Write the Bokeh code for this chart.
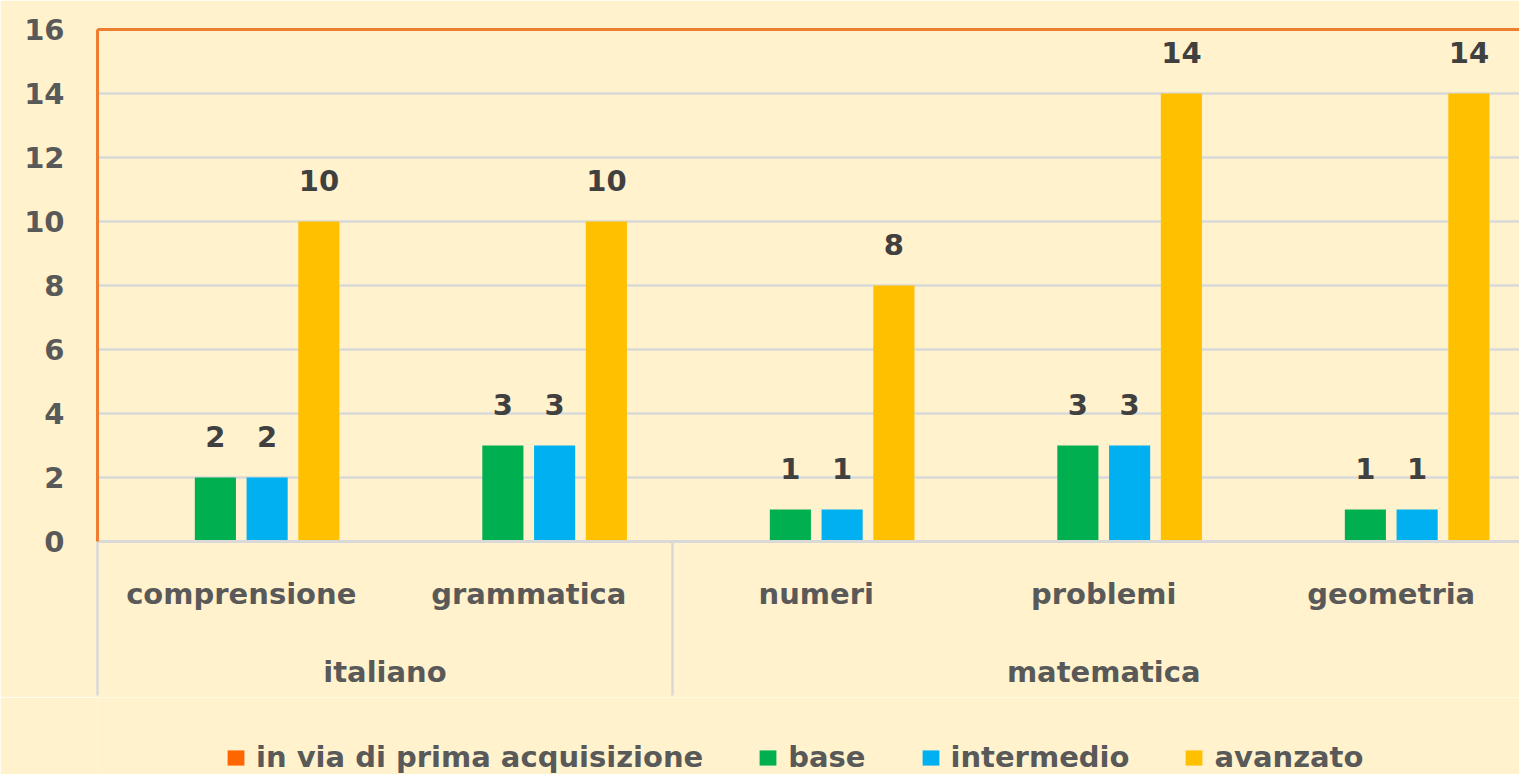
from bokeh.plotting import figure
from bokeh.layouts import column
from bokeh.models import (Range1d, LinearAxis, FixedTicker, Legend, LegendItem,
                          ColumnDataSource)
from bokeh.core.properties import value
from bokeh.embed import file_html
from bokeh.resources import INLINE

# ---- data ----
topics = ["comprensione", "grammatica", "numeri", "problemi", "geometria"]
topic_group = ["italiano", "italiano", "matematica", "matematica", "matematica"]
series_names = ["in via di prima acquisizione", "base", "intermedio", "avanzato"]
in_via = [0, 0, 0, 0, 0]
base = [2, 3, 1, 3, 1]
intermedio = [2, 3, 1, 3, 1]
avanzato = [10, 10, 8, 14, 14]
y_ticks = [0, 2, 4, 6, 8, 10, 12, 14, 16]

series_values = [in_via, base, intermedio, avanzato]
series_colors = ["#FF6600", "#00B050", "#00B0F0", "#FFC000"]
label_series = [False, True, True, True]

FONT = "DejaVu Sans"
FS = "29px"
BG = "#FFF2CC"
GRID = "#D9D9D9"
TXT = "#595959"

# category geometry (one unit per topic)
centers = [i + 0.5 for i in range(len(topics))]
groups = []
for g in topic_group:
    if g not in groups:
        groups.append(g)
boundaries = [0.0]
group_centers = []
start = 0
for g in groups:
    n = topic_group.count(g)
    group_centers.append(start + n / 2)
    start += n
    boundaries.append(float(start))

FW = 1422
p = figure(frame_width=FW, frame_height=512, output_backend="svg",
           toolbar_location=None,
           x_range=Range1d(0, FW / 287.5), y_range=Range1d(0, 16),
           x_axis_location=None, y_axis_location="left",
           min_border_left=97, min_border_right=0, min_border_top=29,
           min_border_bottom=156)
p.background_fill_color = BG
p.border_fill_color = BG
p.outline_line_color = None

# grid
p.xgrid.visible = False
p.ygrid.grid_line_color = GRID
p.ygrid.grid_line_width = 2.5
p.ygrid.ticker = FixedTicker(ticks=y_ticks)

# y axis
ya = p.yaxis[0]
ya.ticker = FixedTicker(ticks=y_ticks)
ya.axis_line_color = "#ED7D31"
ya.axis_line_width = 3
ya.major_tick_line_color = None
ya.minor_tick_line_color = None
ya.major_tick_out = 0
ya.major_tick_in = 0
ya.major_label_standoff = 33
ya.major_label_text_font = FONT
ya.major_label_text_font_style = "bold"
ya.major_label_text_font_size = FS
ya.major_label_text_color = TXT

# top orange border line
top = LinearAxis(ticker=FixedTicker(ticks=[]), axis_line_color="#ED7D31",
                 axis_line_width=3, major_tick_line_color=None,
                 minor_tick_line_color=None, major_tick_out=0, major_tick_in=0,
                 minor_tick_out=0, minor_tick_in=0,
                 major_label_text_font_size="0px", major_label_standoff=0)
p.add_layout(top, "above")


def style_label_axis(ax, standoff):
    ax.major_tick_line_color = None
    ax.major_tick_out = 0
    ax.major_tick_in = 0
    ax.minor_tick_line_color = None
    ax.minor_tick_out = 0
    ax.minor_tick_in = 0
    ax.major_label_standoff = standoff
    ax.major_label_text_font = FONT
    ax.major_label_text_font_style = "bold"
    ax.major_label_text_font_size = FS
    ax.major_label_text_color = TXT


# bottom category axis (topics)
ax1 = LinearAxis(ticker=FixedTicker(ticks=centers),
                 major_label_overrides={c: t for c, t in zip(centers, topics)})
style_label_axis(ax1, 35)
ax1.axis_line_color = GRID
ax1.axis_line_width = 3
p.add_layout(ax1, "below")

# group axis (subjects); group separators drawn as its minor ticks
ax2 = LinearAxis(ticker=FixedTicker(ticks=group_centers, minor_ticks=boundaries),
                 major_label_overrides={c: g for c, g in zip(group_centers, groups)})
style_label_axis(ax2, -41)
ax2.axis_line_color = None
ax2.minor_tick_line_color = GRID
ax2.minor_tick_line_width = 2.5
ax2.minor_tick_in = 72
ax2.minor_tick_out = 82
p.add_layout(ax2, "below")

# legend strip (separate figure below the chart; its own view window holds no bars)
p2 = figure(frame_width=FW + 97, frame_height=77, output_backend="svg",
            toolbar_location=None, x_range=Range1d(-100, -99),
            y_range=Range1d(0, 16),
            x_axis_location=None, y_axis_location=None,
            min_border_left=0, min_border_right=0, min_border_top=0,
            min_border_bottom=0)
p2.background_fill_color = BG
p2.border_fill_color = BG
p2.outline_line_color = None
p2.xgrid.visible = False
p2.ygrid.visible = False

# bars
pitch = 0.18
bar_w = 0.143
n_series = len(series_names)
items = []
for k, (name, vals, col, lab) in enumerate(zip(series_names, series_values,
                                               series_colors, label_series)):
    off = (k - (n_series - 1) / 2) * pitch
    xs = [c + off for c in centers]
    src = ColumnDataSource(dict(x=xs, top=vals, lbl=[str(v) for v in vals]))
    p.vbar(x="x", top="top", bottom=0, width=bar_w, source=src,
           fill_color=col, line_color=None)
    if lab:
        p.text(x="x", y="top", text="lbl", source=src, text_align="center",
               text_baseline="alphabetic", y_offset=-41,
               text_font=value(FONT), text_font_style="bold",
               text_font_size=FS, text_color="#404040")
    r = p2.vbar(x="x", top="top", bottom=0, width=bar_w, source=src,
                fill_color=col, line_color=None)
    items.append(LegendItem(label=name, renderers=[r]))

legend = Legend(items=items, orientation="horizontal", location=(225, 0))
legend.background_fill_alpha = 0
legend.border_line_color = None
legend.label_text_font = FONT
legend.label_text_font_style = "bold"
legend.label_text_font_size = FS
legend.label_text_color = TXT
legend.glyph_width = 21
legend.glyph_height = 19
legend.label_standoff = 10
legend.spacing = 54
legend.padding = 0
legend.margin = 0
legend.label_height = 34
p2.add_layout(legend, "center")

open("out.html", "w").write(file_html(column(p, p2, spacing=0), INLINE))
